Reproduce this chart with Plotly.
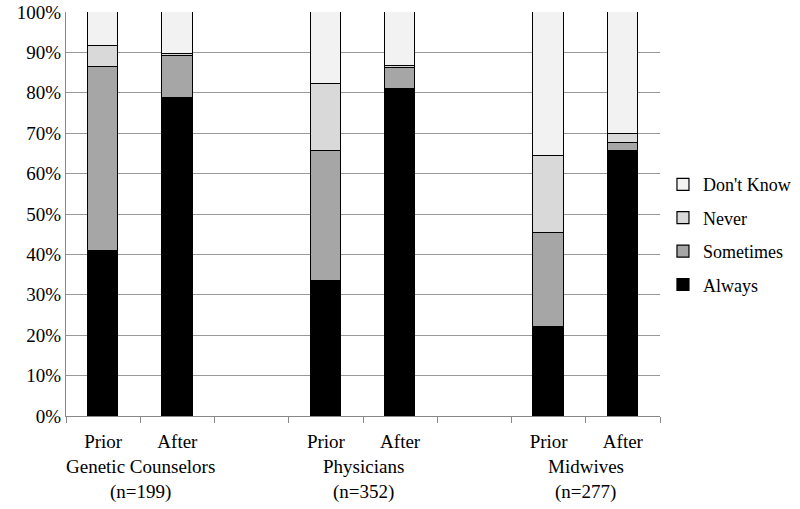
import plotly.graph_objects as go

bar_labels = ["Prior", "After", "Prior", "After", "Prior", "After"]
bar_pos = [0, 1, 3, 4, 6, 7]
group_names = ["Genetic Counselors", "Physicians", "Midwives"]
group_n = ["(n=199)", "(n=352)", "(n=277)"]
group_pos = [0.5, 3.5, 6.5]

always = [40.9, 78.6, 33.4, 80.9, 22.1, 65.5]
sometimes = [45.6, 10.4, 32.3, 5.2, 23.1, 2.1]
never = [5.1, 0.5, 16.5, 0.6, 19.1, 2.2]
dont_know = [8.4, 10.5, 17.8, 13.3, 35.7, 30.2]

series = [("Always", always, "#000000"),
          ("Sometimes", sometimes, "#a6a6a6"),
          ("Never", never, "#d9d9d9"),
          ("Don't Know", dont_know, "#f2f2f2")]

FONT = "Liberation Serif"
FS = 19
fig = go.Figure()
for i, (name, vals, col) in enumerate(series):
    fig.add_trace(go.Bar(x=bar_pos, y=vals, name=name, width=0.41, legendgroup=name,
                         legendrank=1000 - i,
                         marker=dict(color=col, line=dict(color="#000000", width=1.2))))

fig.update_layout(
    barmode="stack",
    width=800, height=509,
    margin=dict(l=66, r=140, t=12, b=93, autoexpand=False),
    plot_bgcolor="white", paper_bgcolor="white",
    font=dict(family=FONT, size=FS, color="#000000"),
    showlegend=True,
    legend=dict(traceorder="grouped", x=1.005, xanchor="left", y=0.449, yanchor="middle",
                font=dict(family=FONT, size=18), itemwidth=30, tracegroupgap=7,
                bgcolor="rgba(0,0,0,0)"),
    bargap=0,
)
fig.update_xaxes(range=[-0.5, 7.5], tickvals=bar_pos, ticktext=bar_labels,
                 ticks="", showgrid=False, zeroline=False, automargin=False,
                 showline=True, linecolor="#888888", linewidth=1, ticklabelstandoff=8,
                 tickfont=dict(family=FONT, size=FS),
                 minor=dict(tick0=-0.5, dtick=1, ticks="outside", ticklen=6, tickcolor="#888888", showgrid=False))
fig.update_yaxes(range=[0, 100], dtick=10, ticksuffix="%", showgrid=True,
                 gridcolor="#999999", gridwidth=1.3, zeroline=False, automargin=False,
                 showline=True, linecolor="#888888", linewidth=1,
                 tickfont=dict(family=FONT, size=FS))
for g, n, p in zip(group_names, group_n, group_pos):
    fig.add_annotation(x=p, y=0, xref="x", yref="paper", text=g, showarrow=False,
                       yanchor="middle", yshift=-50, font=dict(family=FONT, size=FS))
    fig.add_annotation(x=p, y=0, xref="x", yref="paper", text=n, showarrow=False,
                       yanchor="middle", yshift=-76, font=dict(family=FONT, size=FS))
fig.write_html("out.html", config={"displayModeBar": False},
               post_script="document.body.style.margin='0';document.body.style.overflow='hidden';")
